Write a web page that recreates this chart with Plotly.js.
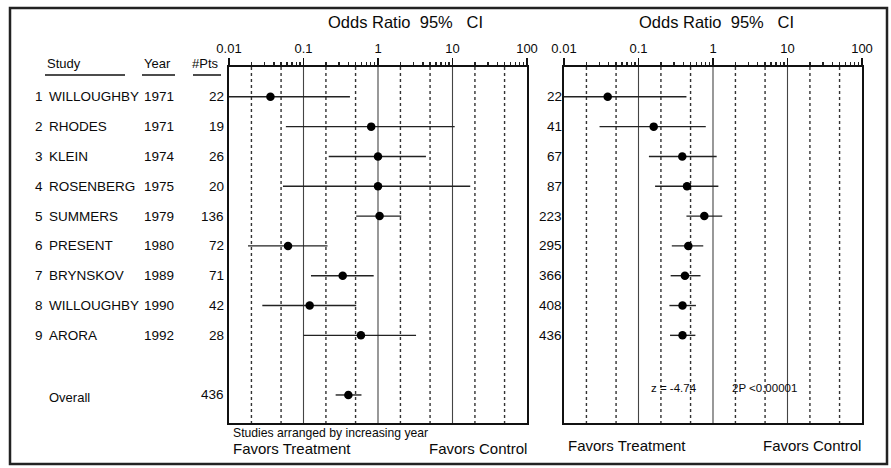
<!DOCTYPE html>
<html>
<head>
<meta charset="utf-8">
<script src="https://cdn.plot.ly/plotly-3.0.1.min.js"></script>
<style>
  html, body { margin: 0; padding: 0; background: #fff; }
  #chart { width: 891px; height: 468px; }
</style>
</head>
<body>
<div id="chart"></div>
<script>
// ---- data ----
const studyNames = ['WILLOUGHBY','RHODES','KLEIN','ROSENBERG','SUMMERS','PRESENT','BRYNSKOV','WILLOUGHBY','ARORA'];
const studyYears = [1971,1971,1974,1975,1979,1980,1989,1990,1992];
const studyPatients = [22,19,26,20,136,72,71,42,28];
const studyOR = [0.036,0.81,1.0,1.0,1.05,0.062,0.336,0.121,0.59];
const studyLow = [0.008,0.058,0.218,0.053,0.51,0.018,0.126,0.028,0.10];
const studyHigh = [0.42,10.7,4.4,17.3,2.05,0.21,0.875,0.51,3.24];

const overallLabel = ['Overall'];
const overallPatients = [436];
const overallOR = [0.40];
const overallLow = [0.27];
const overallHigh = [0.60];

const cumPatients = [22,41,67,87,223,295,366,408,436];
const cumOR = [0.0386,0.16,0.387,0.448,0.765,0.466,0.42,0.39,0.39];
const cumLow = [0.008,0.030,0.138,0.167,0.44,0.28,0.27,0.26,0.265];
const cumHigh = [0.44,0.80,1.12,1.18,1.33,0.74,0.68,0.59,0.58];

const tickVals = [0.01,0.1,1,10,100];
const tickText = ['0.01','0.1','1','10','100'];
const dashedRefs = [0.02,0.05,0.2,0.5,2,5,20,50];
const solidRefs = [0.1,1,10];
const zText = 'z = -4.74';
const pText = '2P <0.00001';

// ---- layout helpers ----
const W = 891, H = 468;
const px = x => x / W;
const py = y => 1 - y / H;
const YTOP = 0, YBOT = 11.94;
const FONT = '"Liberation Sans", Arial, Helvetica, sans-serif';
const INK = '#0a0a0a';

function vlines(vals, xa, ya, dash, width, color) {
  const xs = [], ys = [];
  vals.forEach(v => { xs.push(v, v, null); ys.push(YTOP, YBOT, null); });
  return { x: xs, y: ys, xaxis: xa, yaxis: ya, mode: 'lines', hoverinfo: 'skip',
           line: { color: color, width: width, dash: dash }, showlegend: false };
}

const rowsStudy = studyOR.map((_, i) => i + 1);
const rowOverall = [11];

const traces = [
  vlines(dashedRefs, 'x', 'y', '3px,3px', 1.4, '#333'),
  vlines(solidRefs, 'x', 'y', 'solid', 1.1, '#444'),
  vlines(dashedRefs, 'x2', 'y2', '3px,3px', 1.4, '#333'),
  vlines(solidRefs, 'x2', 'y2', 'solid', 1.1, '#444'),
  {
    x: studyOR, y: rowsStudy, xaxis: 'x', yaxis: 'y', mode: 'markers', showlegend: false,
    marker: { color: '#000', size: 8.5 },
    error_x: { type: 'data', symmetric: false,
      array: studyHigh.map((h, i) => h - studyOR[i]),
      arrayminus: studyLow.map((l, i) => studyOR[i] - l),
      color: '#222', thickness: 1.4, width: 0 }
  },
  {
    x: overallOR, y: rowOverall, xaxis: 'x', yaxis: 'y', mode: 'markers', showlegend: false,
    marker: { color: '#000', size: 8.5 },
    error_x: { type: 'data', symmetric: false,
      array: overallHigh.map((h, i) => h - overallOR[i]),
      arrayminus: overallLow.map((l, i) => overallOR[i] - l),
      color: '#222', thickness: 1.4, width: 0 }
  },
  {
    x: cumOR, y: rowsStudy, xaxis: 'x2', yaxis: 'y2', mode: 'markers', showlegend: false,
    marker: { color: '#000', size: 8.5 },
    error_x: { type: 'data', symmetric: false,
      array: cumHigh.map((h, i) => h - cumOR[i]),
      arrayminus: cumLow.map((l, i) => cumOR[i] - l),
      color: '#222', thickness: 1.4, width: 0 }
  }
];

const minorVals = [];
[0.01,0.1,1,10].forEach(d => { for (let k = 2; k <= 9; k++) minorVals.push(+(d * k).toPrecision(3)); });

function xax(domain, anchor) {
  return {
    type: 'log', range: [-2, 2], domain: domain, anchor: anchor, side: 'top',
    showgrid: false, zeroline: false, showline: true, mirror: true,
    linecolor: '#111', linewidth: 2,
    ticks: 'outside', ticklen: 7, tickwidth: 1.4, tickcolor: '#111',
    tickvals: tickVals, ticktext: tickText,
    tickfont: { family: FONT, size: 13, color: INK },
    minor: { tickvals: minorVals, ticks: 'outside', ticklen: 3.5, tickwidth: 1.3, tickcolor: '#222', showgrid: false },
    fixedrange: true
  };
}
function yax(anchor) {
  return {
    range: [YBOT, YTOP], domain: [py(423), py(67)], anchor: anchor,
    showgrid: false, zeroline: false, showline: true, mirror: true,
    linecolor: '#111', linewidth: 2, ticks: '', showticklabels: false, fixedrange: true
  };
}

const ann = [];
function txt(text, x, y, opts) {
  ann.push(Object.assign({
    text: text, x: x, y: y, xref: 'paper', yref: 'paper', showarrow: false,
    xanchor: 'left', yanchor: 'middle',
    font: { family: FONT, size: 13.5, color: INK }
  }, opts || {}));
}

// titles
txt('Odds Ratio&nbsp;&nbsp;95%&nbsp;&nbsp;&nbsp;CI', px(405), py(22), { xanchor: 'center', font: { family: FONT, size: 16.5, color: INK } });
txt('Odds Ratio&nbsp;&nbsp;95%&nbsp;&nbsp;&nbsp;CI', px(716), py(22), { xanchor: 'center', font: { family: FONT, size: 16.5, color: INK } });

// headers
txt('Study', px(45), py(64), { font: { family: FONT, size: 13, color: INK } });
txt('Year', px(142), py(64), { font: { family: FONT, size: 13, color: INK } });
txt('#Pts', px(221), py(64), { xanchor: 'right', font: { family: FONT, size: 13, color: INK } });

// table rows (aligned to the rows of the y axis)
studyNames.forEach((name, i) => {
  const yr = { yref: 'y' };
  txt(String(i + 1), px(33), i + 1, yr);
  txt(name, px(47), i + 1, yr);
  txt(String(studyYears[i]), px(142), i + 1, yr);
  txt(String(studyPatients[i]), px(226), i + 1, Object.assign({ xanchor: 'right' }, yr));
  txt(String(cumPatients[i]), px(563.5), i + 1, { yref: 'y2', xanchor: 'right' });
});
txt(overallLabel[0], px(47), rowOverall[0] + 0.1, { yref: 'y', font: { family: FONT, size: 13, color: INK } });
txt(String(overallPatients[0]), px(226), rowOverall[0], { yref: 'y', xanchor: 'right' });

// statistics
txt(zText, px(674), py(388), { xanchor: 'center', font: { family: FONT, size: 11.5, color: INK } });
txt(pText, px(764), py(388), { xanchor: 'center', font: { family: FONT, size: 11.5, color: INK } });

// footers
txt('Studies arranged by increasing year', px(231), py(433), { font: { family: FONT, size: 12.2, color: INK } });
txt('Favors Treatment', px(231), py(448), { font: { family: FONT, size: 15, color: INK } });
txt('Favors Control', px(529), py(448), { xanchor: 'right', font: { family: FONT, size: 15, color: INK } });
txt('Favors Treatment', px(566), py(445), { font: { family: FONT, size: 15, color: INK } });
txt('Favors Control', px(863), py(445), { xanchor: 'right', font: { family: FONT, size: 15, color: INK } });

const shapes = [
  // outer border
  { type: 'rect', xref: 'paper', yref: 'paper', x0: px(10), x1: px(887), y0: py(464), y1: py(8),
    line: { color: '#222', width: 2.5 } },
  // header underlines
  { type: 'line', xref: 'paper', yref: 'paper', x0: px(45), x1: px(125), y0: py(75), y1: py(75), line: { color: '#111', width: 1.5 } },
  { type: 'line', xref: 'paper', yref: 'paper', x0: px(142), x1: px(175), y0: py(75), y1: py(75), line: { color: '#111', width: 1.5 } },
  { type: 'line', xref: 'paper', yref: 'paper', x0: px(193), x1: px(221), y0: py(75), y1: py(75), line: { color: '#111', width: 1.5 } }
];

const layout = {
  width: W, height: H,
  margin: { l: 0, r: 0, t: 0, b: 0 },
  paper_bgcolor: '#fff', plot_bgcolor: '#fff',
  showlegend: false,
  xaxis: xax([px(229), px(527)], 'y'),
  yaxis: yax('x'),
  xaxis2: xax([px(564), px(862)], 'y2'),
  yaxis2: yax('x2'),
  annotations: ann,
  shapes: shapes,
  font: { family: FONT, color: INK }
};

Plotly.newPlot('chart', traces, layout, { displayModeBar: false, staticPlot: true });
</script>
</body>
</html>
